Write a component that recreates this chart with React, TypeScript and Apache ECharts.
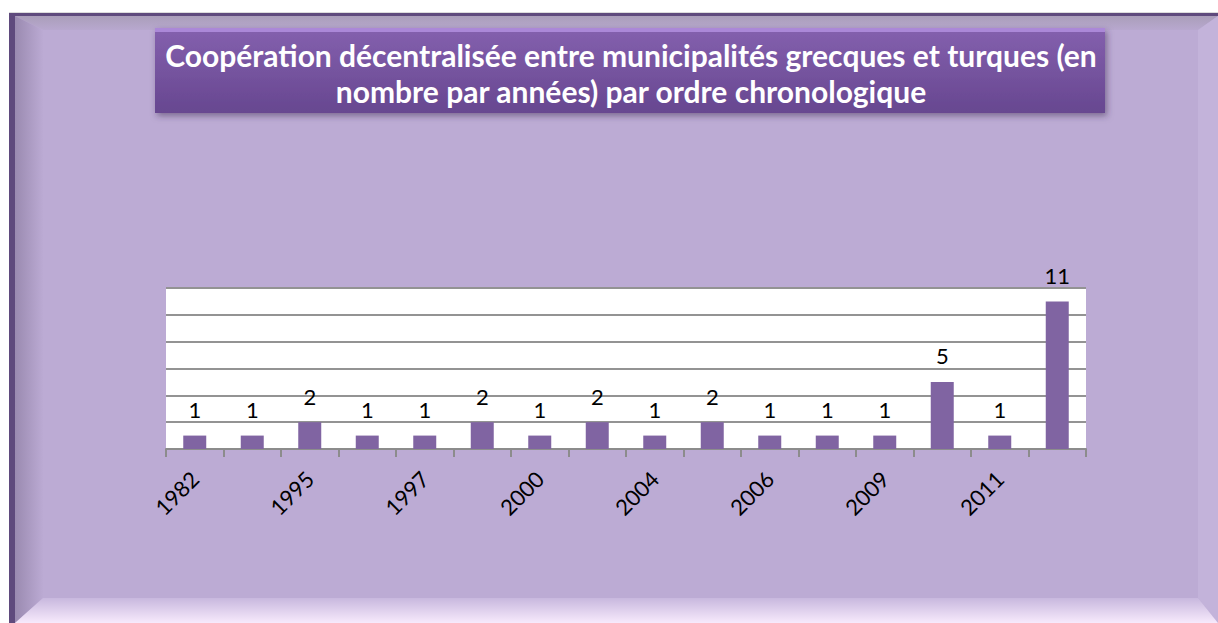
import React, { useEffect, useRef } from "react";
import * as echarts from "echarts";

const categories = ["1982", "1993", "1995", "1996", "1997", "1999", "2000", "2002", "2004", "2005", "2006", "2008", "2009", "2010", "2011", "2012"];
const values = [1, 1, 2, 1, 1, 2, 1, 2, 1, 2, 1, 1, 1, 5, 1, 11];
const yMin = 0;
const yMax = 12;
const yInterval = 2;
const titleText = "Coopération décentralisée entre municipalités grecques et turques (en\nnombre par années) par ordre chronologique";

const W = 1218;
const H = 623;

export default function App() {
  const ref = useRef<HTMLDivElement>(null);
  useEffect(() => {
    const chart = echarts.init(ref.current!, null, { renderer: "svg" });
    const lin = (x2: number, y2: number, c1: string, c2: string) =>
      new echarts.graphic.LinearGradient(0, 0, x2, y2, [
        { offset: 0, color: c1 },
        { offset: 1, color: c2 },
      ]);
    chart.setOption({
      animation: false,
      backgroundColor: "#ffffff",
      title: {
        text: titleText,
        left: 631,
        top: 37,
        textAlign: "center",
        padding: 0,
        textStyle: {
          color: "#ffffff",
          fontFamily: "Lato",
          fontWeight: "bold",
          fontSize: 30,
          lineHeight: 36,
        },
      },
      graphic: [
        { type: "rect", z: -20, shape: { x: 9, y: 12, width: W - 9, height: 2 }, style: { fill: "#dcdcdc" } },
        { type: "rect", z: -19, shape: { x: 9, y: 13, width: W - 9, height: H - 13 }, style: { fill: "#5f4a7d" } },
        { type: "rect", z: -18, shape: { x: 15, y: 16, width: W - 15, height: H - 16 }, style: { fill: "#bcabd4" } },
        {
          type: "polygon", z: -17,
          shape: { points: [[15, 16], [W, 16], [1198, 30], [43, 30]] },
          style: { fill: lin(0, 1, "#aa9eba", "#b8a8cf") },
        },
        {
          type: "polygon", z: -17,
          shape: { points: [[15, 16], [43, 30], [43, 598], [15, H]] },
          style: { fill: lin(1, 0, "#9a8ab0", "#bbaad3") },
        },
        {
          type: "polygon", z: -17,
          shape: { points: [[W, 16], [W, H], [1198, 598], [1198, 30]] },
          style: { fill: "#c3b3da" },
        },
        {
          type: "polygon", z: -17,
          shape: { points: [[15, H], [43, 598], [1198, 598], [W, H]] },
          style: { fill: lin(0, 1, "#c8b8de", "#f7eafc") },
        },
        {
          type: "rect", z: -10,
          shape: { x: 155, y: 28, width: 950, height: 85 },
          style: {
            fill: lin(0, 1, "#8460ae", "#674790"),
            shadowBlur: 6,
            shadowOffsetX: 2,
            shadowOffsetY: 3,
            shadowColor: "rgba(60,40,80,0.5)",
          },
        },
        {
          type: "rect", z: -9,
          shape: { x: 155, y: 28, width: 950, height: 4 },
          style: { fill: "#ab88d8" },
        },
      ],
      grid: {
        left: 166,
        right: W - 1086,
        top: 288,
        bottom: H - 449,
        show: true,
        backgroundColor: "#ffffff",
        borderWidth: 0,
      },
      xAxis: {
        type: "category",
        data: categories,
        axisLine: { show: true, lineStyle: { color: "#8c8c8c", width: 2 } },
        axisTick: { show: true, interval: 0, length: 8, lineStyle: { color: "#8c8c8c", width: 2 } },
        axisLabel: {
          interval: 1,
          rotate: 45,
          margin: 26,
          color: "#000000",
          fontFamily: "Lato",
          fontSize: 22,
        },
      },
      yAxis: {
        type: "value",
        min: yMin,
        max: yMax,
        interval: yInterval,
        axisLabel: { show: false },
        axisLine: { show: false },
        axisTick: { show: false },
        splitLine: { show: true, lineStyle: { color: "#939393", width: 2 } },
      },
      series: [
        {
          type: "bar",
          data: values,
          barWidth: "40%",
          itemStyle: { color: "#8064a2" },
          label: {
            show: true,
            position: "top",
            distance: 15,
            color: "#000000",
            fontFamily: "Lato",
            fontSize: 22,
          },
        },
      ],
    });
    return () => chart.dispose();
  }, []);
  return <div ref={ref} style={{ position: "absolute", left: 0, top: 0, width: W, height: H }} />;
}
